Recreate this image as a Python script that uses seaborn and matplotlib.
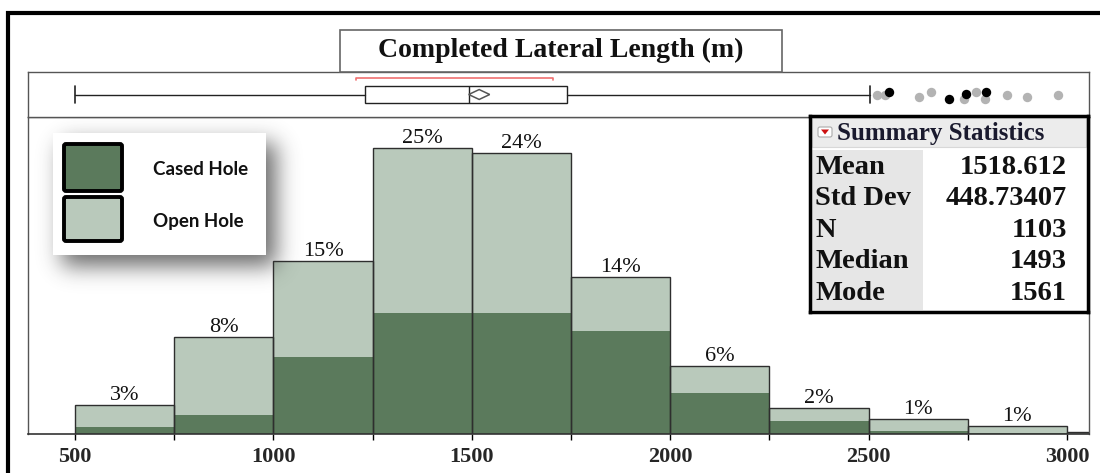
import numpy as np
import pandas as pd
import matplotlib
matplotlib.use("Agg")
import matplotlib.pyplot as plt
import seaborn as sns
from matplotlib.patches import Rectangle, Polygon, FancyBboxPatch

# ---------------- data ----------------
bin_edges = [500, 750, 1000, 1250, 1500, 1750, 2000, 2250, 2500, 2750, 3000, 3250]
cased_counts = [7, 18, 73, 115, 115, 98, 39, 12, 3, 1, 0]
open_counts = [21, 74, 92, 157, 153, 52, 26, 13, 11, 7, 2]
pct_labels = ["3%", "8%", "15%", "25%", "24%", "14%", "6%", "2%", "1%", "1%", ""]
tick_values = [500, 1000, 1500, 2000, 2500, 3000]
tick_labels = ["500", "1000", "1500", "2000", "2500", "3000"]
series_names = ["Open Hole", "Cased Hole"]

box_q1, box_median, box_q3 = 1231, 1493, 1740
whisker_low, whisker_high = 500, 2503
shortest_half = [1208, 1705]
outliers_gray = [2521, 2541, 2627, 2657, 2740, 2771, 2793, 2849, 2899, 2977]
outliers_gray_jitter = [-0.04, -0.04, -0.13, 0.09, -0.18, 0.09, -0.18, -0.04, -0.09, -0.04]
outliers_black = [2551, 2703, 2745, 2796]
outliers_black_jitter = [0.13, -0.18, 0.04, 0.09]

stat_mean = 1518.612
stat_sd = 448.73407
stat_n = 1103
stat_names = ["Mean", "Std Dev", "N", "Median", "Mode"]
stat_texts = ["1518.612", "448.73407", "1103", "1493", "1561"]

DARK = "#5b7a5c"
LIGHT = "#b9c9bb"
SERIF = ["Liberation Serif", "DejaVu Serif"]

# ---------------- figure ----------------
W, H = 1100, 473
sns.set_theme(style="white")
plt.rcParams["font.family"] = SERIF
fig = plt.figure(figsize=(W / 100, H / 100), dpi=100)
fig.patch.set_facecolor("white")

def fx(x):
    return x / W

def fy(y):
    return 1 - y / H

px_per_unit = (1067 - 75) / 2500.0
x_left = 500 - (75 - 28) / px_per_unit
x_right = 500 + (1089 - 75) / px_per_unit

# ---------------- histogram ----------------
ax = fig.add_axes([fx(28), fy(434), (1089 - 28) / W, (434 - 117) / H])
centers = [(a + b) / 2 for a, b in zip(bin_edges[:-1], bin_edges[1:])]
df = pd.DataFrame({
    "value": centers * 2,
    "count": open_counts + cased_counts,
    "type": ["Open Hole"] * len(centers) + ["Cased Hole"] * len(centers),
})
sns.histplot(data=df, x="value", weights="count", hue="type", hue_order=series_names,
             multiple="stack", bins=bin_edges, palette={"Open Hole": LIGHT, "Cased Hole": DARK},
             alpha=1, linewidth=0, legend=False, ax=ax)
totals = [o + c for o, c in zip(open_counts, cased_counts)]
sns.histplot(x=centers, weights=totals, bins=bin_edges, fill=False, element="bars",
             color="#2e2e2e", linewidth=1.0, ax=ax)
outline = ax.containers[-1]
ax.bar_label(outline, labels=pct_labels, padding=0, fontsize=16, family=SERIF, color="#111111")

ax.set_xlim(x_left, x_right)
ax.set_ylim(0, 302)
ax.set_xticks(tick_values)
ax.set_xticklabels(tick_labels, fontsize=16, fontweight="bold", family=SERIF)
ax.set_xticks([750, 1250, 1750, 2250, 2750], minor=True)
ax.tick_params(axis="x", which="both", direction="out", length=4, width=1, color="black", pad=5, bottom=True)
ax.set_yticks([])
ax.set_xlabel("")
ax.set_ylabel("")
for s in ["left", "right", "top"]:
    ax.spines[s].set_color("#555555")
    ax.spines[s].set_linewidth(1)
ax.spines["bottom"].set_color("#333333")
ax.spines["bottom"].set_linewidth(1.2)
ax.set_facecolor("white")

# ---------------- box plot panel ----------------
axb = fig.add_axes([fx(28), fy(117), (1089 - 28) / W, (117 - 72) / H])
stats = [dict(med=box_median, q1=box_q1, q3=box_q3, whislo=whisker_low, whishi=whisker_high, fliers=[])]
axb.bxp(stats, positions=[0], widths=0.8, capwidths=0.75, orientation="horizontal",
        showfliers=False, patch_artist=True,
        boxprops=dict(facecolor="white", edgecolor="#222222", linewidth=1),
        medianprops=dict(color="#222222", linewidth=1),
        whiskerprops=dict(color="#222222", linewidth=1),
        capprops=dict(color="#222222", linewidth=1.2))
ci = 1.96 * stat_sd / np.sqrt(stat_n)
axb.add_patch(Polygon([(stat_mean - ci, 0), (stat_mean, 0.22), (stat_mean + ci, 0), (stat_mean, -0.22)],
                      closed=True, facecolor="none", edgecolor="#555555", linewidth=1.1, zorder=5))
axb.plot([shortest_half[0], shortest_half[0], shortest_half[1], shortest_half[1]],
         [0.63, 0.73, 0.73, 0.63], color="#f07070", linewidth=1.2)
sns.scatterplot(x=outliers_gray, y=outliers_gray_jitter, color="#b3b3b3", s=46, linewidth=0, ax=axb, zorder=4)
sns.scatterplot(x=outliers_black, y=outliers_black_jitter, color="black", s=46, linewidth=0, ax=axb, zorder=5)
axb.set_xlim(x_left, x_right)
axb.set_ylim(-1, 1)
axb.set_xticks([])
axb.set_yticks([])
for s in axb.spines.values():
    s.set_color("#555555")
    s.set_linewidth(1)

# ---------------- title box ----------------
fig.add_artist(Rectangle((fx(340), fy(72)), (782 - 340) / W, (72 - 30) / H, transform=fig.transFigure,
                         facecolor="white", edgecolor="#666666", linewidth=1.2, zorder=3))
fig.text(fx(561), fy(50), "Completed Lateral Length (m)", ha="center", va="center",
         fontsize=20, fontweight="bold", family=SERIF, color="#111111", zorder=4)

# ---------------- legend shadow ----------------
sx0, sx1, sy0, sy1 = 25, 345, 105, 320
yy, xx = np.mgrid[sy0:sy1, sx0:sx1]
mask = ((xx >= 53 + 9) & (xx <= 266 + 9) & (yy >= 133 + 10) & (yy <= 255 + 10)).astype(float)
sig = 11.0
kr = np.arange(-36, 37)
kern = np.exp(-kr ** 2 / (2 * sig ** 2))
kern /= kern.sum()
blur = np.apply_along_axis(lambda r: np.convolve(r, kern, mode="same"), 1, mask)
blur = np.apply_along_axis(lambda c: np.convolve(c, kern, mode="same"), 0, blur)
rgba = np.zeros(blur.shape + (4,))
rgba[..., :3] = 0.22
rgba[..., 3] = blur * 0.75
axs = fig.add_axes([fx(sx0), fy(sy1), (sx1 - sx0) / W, (sy1 - sy0) / H])
axs.imshow(rgba, extent=(sx0, sx1, sy1, sy0), aspect="auto", interpolation="bilinear")
axs.axis("off")
axs.set_zorder(5)

# ---------------- legend ----------------
axl = fig.add_axes([fx(53), fy(255), (266 - 53) / W, (255 - 133) / H])
axl.set_xlim(53, 266)
axl.set_ylim(255, 133)
axl.axis("off")
axl.set_zorder(6)
axl.add_patch(Rectangle((53, 133), 213, 122, facecolor="white", edgecolor="none"))
legend_colors = [DARK, LIGHT]
legend_names = ["Cased Hole", "Open Hole"]
for i, (c, name) in enumerate(zip(legend_colors, legend_names)):
    top = 144 + i * 53
    axl.add_patch(FancyBboxPatch((64, top), 58, 47 if i == 0 else 44,
                                 boxstyle="round,pad=0,rounding_size=2",
                                 facecolor=c, edgecolor="black", linewidth=2.8))
    axl.text(153, top + 25, name, ha="left", va="center", fontsize=13.5, fontweight="bold",
             family=["Lato", "DejaVu Sans"], color="#111111")

# ---------------- summary statistics ----------------
axt = fig.add_axes([fx(810), fy(312), (1088 - 810) / W, (312 - 116) / H])
axt.set_xlim(810, 1088)
axt.set_ylim(312, 116)
axt.set_xticks([])
axt.set_yticks([])
axt.set_zorder(6)
axt.set_facecolor("white")
for s in axt.spines.values():
    s.set_color("black")
    s.set_linewidth(2.5)
axt.add_patch(Rectangle((812, 118), 274, 29, facecolor="#ececec", edgecolor="#d8d8d8", linewidth=0.8))
axt.add_patch(Rectangle((812, 150), 111, 160, facecolor="#e6e6e6", edgecolor="none"))
axt.add_patch(FancyBboxPatch((818, 127), 14, 10, boxstyle="round,pad=0,rounding_size=2",
                             facecolor="white", edgecolor="#aaaaaa", linewidth=0.8))
axt.add_patch(Polygon([(821, 129.5), (829, 129.5), (825, 134.5)], closed=True, facecolor="#cc1111", edgecolor="none"))
axt.text(837, 133, "Summary Statistics", ha="left", va="center", fontsize=18, fontweight="bold",
         family=SERIF, color="#1a1a2e")
for i, (nm, val) in enumerate(zip(stat_names, stat_texts)):
    yc = 167 + i * 31.5
    axt.text(815, yc, nm, ha="left", va="center", fontsize=20.5, fontweight="bold", family=SERIF, color="#111111")
    axt.text(1067, yc, val, ha="right", va="center", fontsize=20.5, fontweight="bold", family=SERIF, color="#111111")

# ---------------- outer frame ----------------
fig.add_artist(Rectangle((fx(8), -0.5), 2.0, fy(13) + 0.5, transform=fig.transFigure,
                         facecolor="none", edgecolor="black", linewidth=3, zorder=10))

fig.savefig("out.png", dpi=100, facecolor="white")
